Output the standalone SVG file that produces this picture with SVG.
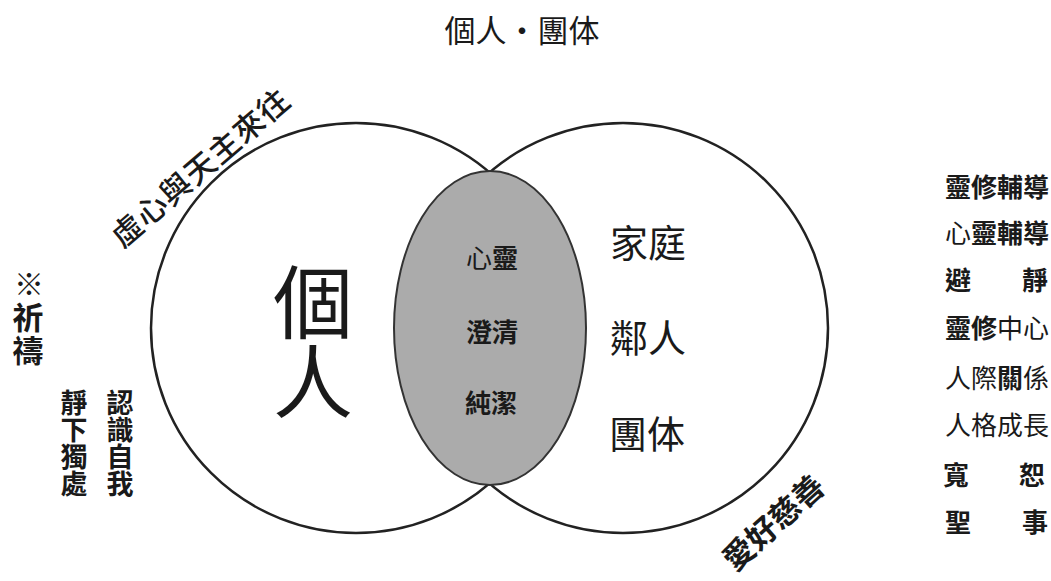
<svg xmlns="http://www.w3.org/2000/svg" width="1051" height="581" viewBox="0 0 1051 581">
<style>
text{font-family:"Noto Sans CJK TC","Noto Sans CJK SC",sans-serif;fill:#1a1a1a;dominant-baseline:central;text-anchor:middle}
.c{fill:none;stroke:#222;stroke-width:2.5}
.b{font-weight:700}
.r{font-size:26px;text-anchor:start}
.vt{writing-mode:vertical-rl;text-anchor:start}
.v{font-size:27px;font-weight:700}
</style>
<rect width="1051" height="581" fill="#fff"/>
<g id="title"><text x="522" y="28" font-size="31">個人・團体</text></g>
<g id="circle-left">
<circle class="c" cx="356" cy="328" r="205"/>
<text class="vt" x="313" y="262" font-size="80">個人</text>
</g>
<g id="circle-right">
<circle class="c" cx="623" cy="328" r="205"/>
<text x="648" y="240" font-size="38">家庭</text>
<text x="648" y="335" font-size="38">鄰人</text>
<text x="647" y="431" font-size="38">團体</text>
</g>
<g id="overlap">
<ellipse cx="490" cy="328" rx="96" ry="157" fill="#ababab" stroke="#333" stroke-width="2"/>
<text x="492" y="256" font-size="26">心<tspan class="b">靈</tspan></text>
<text x="492" y="330" font-size="26" class="b">澄清</text>
<text x="491" y="401" font-size="26" class="b">純潔</text>
</g>
<g id="label-top-left"><text x="199" y="166" font-size="31" font-weight="500" letter-spacing="1" transform="rotate(-40.6 199 166)">虛心與天主來往</text></g>
<g id="label-bottom-right"><text x="772" y="521" font-size="31" class="b" transform="rotate(-42 772 521)">愛好慈善</text></g>
<g id="prayer">
<text x="29" y="282" font-size="30">※</text>
<text class="vt b" x="28" y="301.5" font-size="31" letter-spacing="2">祈禱</text>
<text class="vt v" x="74" y="389.5">靜下獨處</text>
<text class="vt v" x="120" y="389.5">認識自我</text>
</g>
<g id="list">
<text class="r b" x="945" y="185">靈修輔導</text>
<text class="r" x="945" y="231">心<tspan class="b">靈輔導</tspan></text>
<text class="r b" x="945" y="278">避</text><text class="r b" x="1048" y="278" style="text-anchor:end">靜</text>
<text class="r" x="945" y="326"><tspan class="b">靈修</tspan>中心</text>
<text class="r" x="945" y="376">人際<tspan class="b">關</tspan>係</text>
<text class="r" x="945" y="423">人格成長</text>
<text class="r b" x="943" y="473">寬</text><text class="r b" x="1045" y="473" style="text-anchor:end">恕</text>
<text class="r b" x="945" y="520">聖</text><text class="r b" x="1048" y="520" style="text-anchor:end">事</text>
</g>
</svg>
